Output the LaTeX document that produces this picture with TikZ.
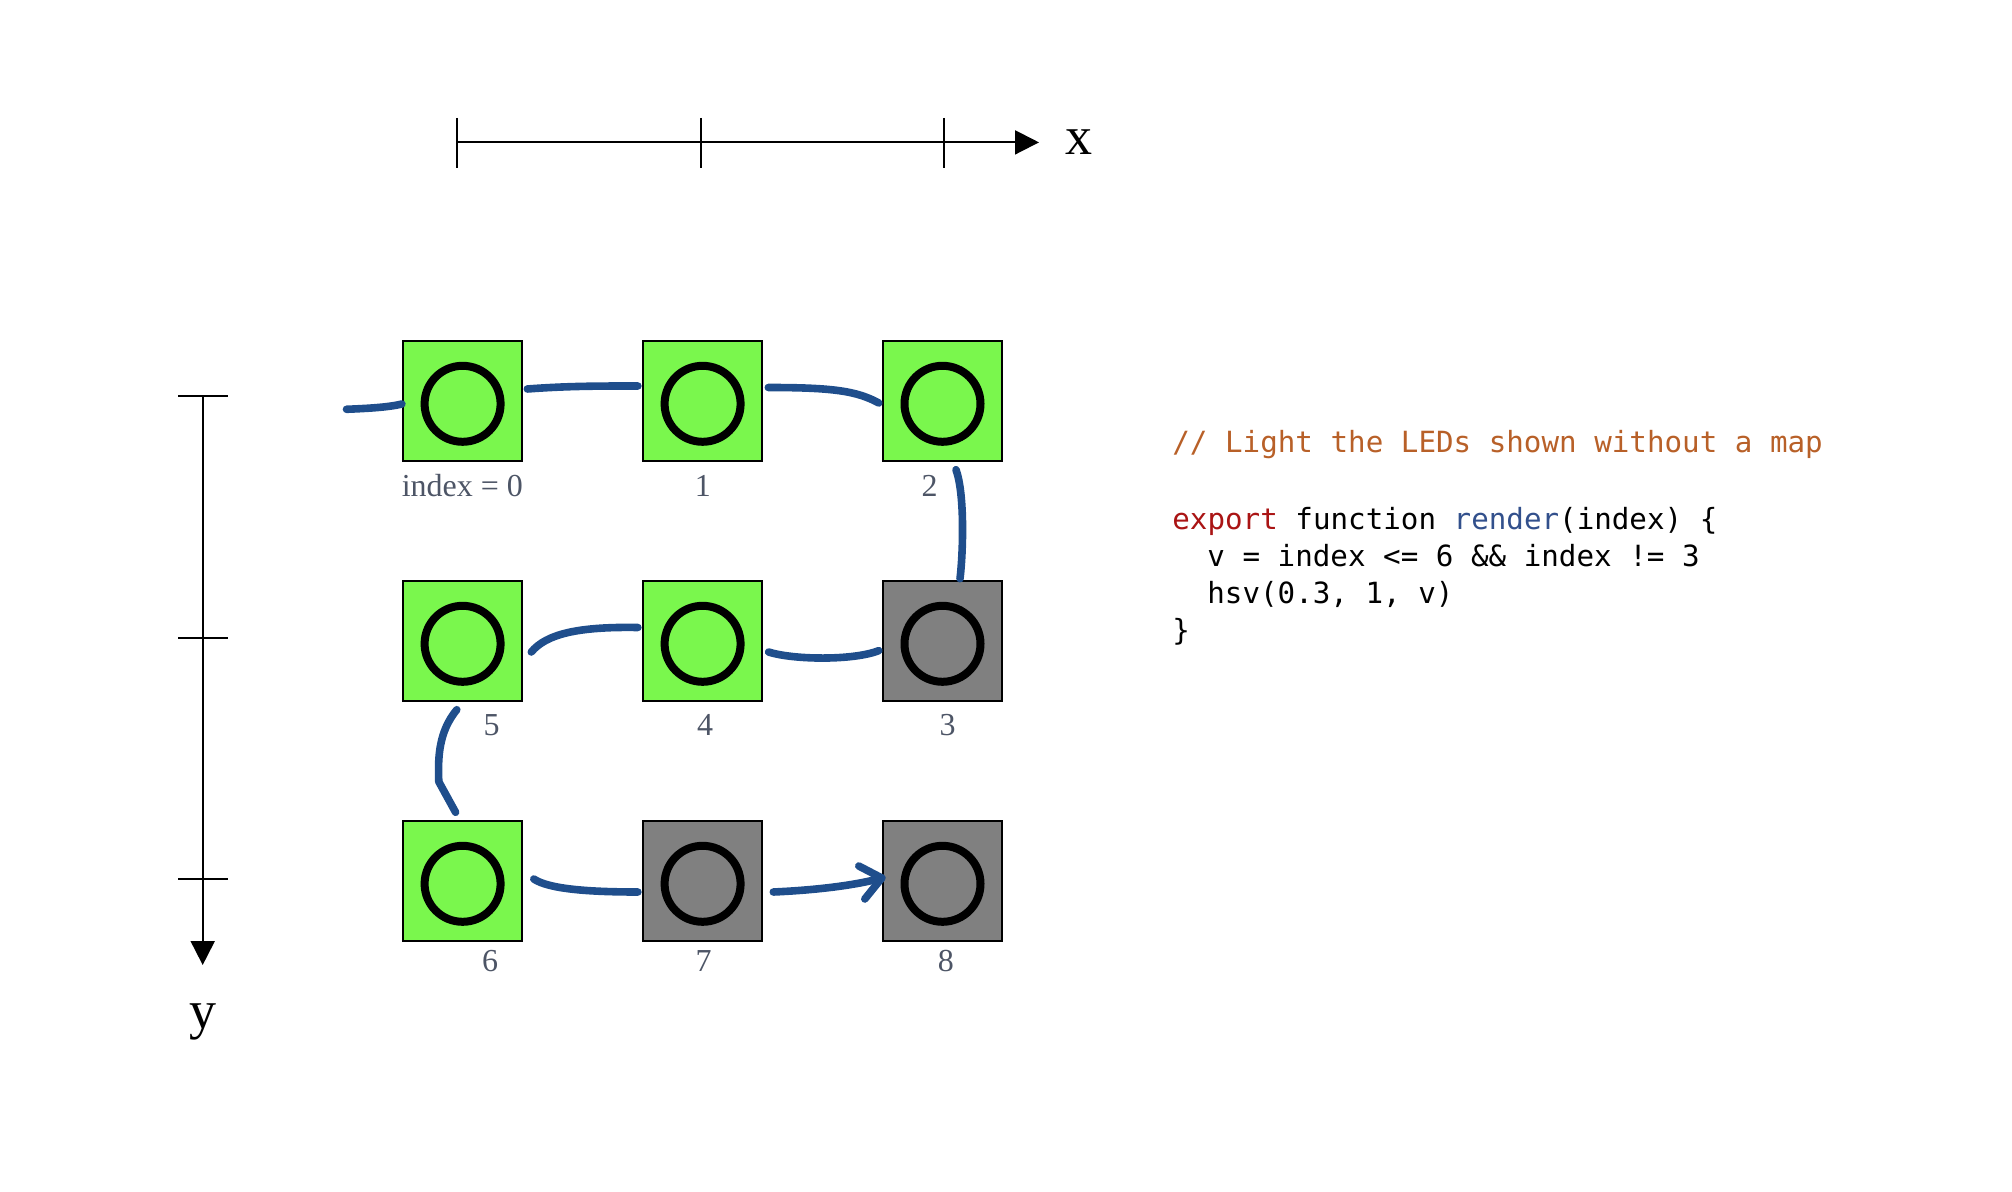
\documentclass[tikz,border=0pt]{standalone}
\usepackage{fontspec}
\setmainfont{Liberation Serif}
\newfontfamily\codefont{DejaVu Sans Mono}
\usetikzlibrary{arrows.meta,calc}
\definecolor{ledgreen}{RGB}{122,247,77}
\definecolor{ledgray}{RGB}{128,128,128}
\definecolor{wireblue}{RGB}{31,78,140}
\definecolor{labelgray}{RGB}{77,85,102}
\definecolor{cmtorange}{RGB}{184,96,40}
\definecolor{kwred}{RGB}{170,20,20}
\definecolor{fnblue}{RGB}{50,80,140}
\begin{document}
\begin{tikzpicture}[x=0.5pt,y=-0.5pt,
  led/.style={draw=black, line width=1pt, minimum width=59.7pt, minimum height=59.7pt, inner sep=0pt, outer sep=0pt},
  ledon/.style={led, fill=ledgreen},
  ledoff/.style={led, fill=ledgray},
  ring/.style={draw=black, line width=4pt},
  wire/.style={draw=wireblue, line width=3.8pt, line cap=round, line join=round},
  idx/.style={text=labelgray, anchor=base, inner sep=0pt, font=\fontsize{16}{16}\selectfont},
  axis/.style={line width=1pt, -{Triangle[length=12pt,width=12pt]}},
  tickline/.style={line width=1pt},
  axlabel/.style={anchor=base, inner sep=0pt, font=\fontsize{27}{27}\selectfont},
  codeline/.style={anchor=base west, inner sep=0pt, font=\codefont\fontsize{14.6}{18}\selectfont}
]
\useasboundingbox (0,0) rectangle (2012,1192);

% LEDs
\node[ledon]  (b0) at (462.6,401) {};
\node[ledon]  (b1) at (702.6,401) {};
\node[ledon]  (b2) at (942.5,401) {};
\node[ledoff] (b3) at (942.5,641) {};
\node[ledon]  (b4) at (702.6,641) {};
\node[ledon]  (b5) at (462.6,641) {};
\node[ledon]  (b6) at (462.6,881) {};
\node[ledoff] (b7) at (702.6,881) {};
\node[ledoff] (b8) at (942.5,881) {};
\foreach \b in {b0,b1,b2,b3,b4,b5,b6,b7,b8}{
  \draw[ring] ([yshift=-1.4pt]\b.center) circle [radius=19pt];
}

% index labels
\node[idx] (l0) at (462.4,496) {index = 0};
\node[idx] (l1) at (702.8,496) {1};
\node[idx] (l2) at (929.5,496) {2};
\node[idx] (l5) at (491.7,735.5) {5};
\node[idx] (l4) at (705,735.5) {4};
\node[idx] (l3) at (947.5,735.5) {3};
\node[idx] (l6) at (490,971.5) {6};
\node[idx] (l7) at (703.7,971.5) {7};
\node[idx] (l8) at (945.8,971.5) {8};

% axes
\coordinate (xo) at (456.8,142.4);
\coordinate (xe) at (1039,142.4);
\draw[axis] (xo) -- (xe);
\foreach \tx in {456.8,700.6,944.4}{
  \draw[tickline] (\tx,118) -- (\tx,168);
}
\node[axlabel] (xl) at (1079,155) {x};

\coordinate (yo) at (202.7,396.5);
\coordinate (ye) at (202.7,965);
\draw[axis] (yo) -- (ye);
\foreach \ty in {396.5,637.7,879}{
  \draw[tickline] (178.4,\ty) -- (228.4,\ty);
}
\node[axlabel] (yl) at (203,1028) {y};

% wires
\coordinate (lead) at (346.5,409.3);
\draw[wire] (lead) .. controls +(25,-1) and +(-12,3) .. ([shift={(-1,3)}]b0.west);
\draw[wire] ([shift={(5,-12)}]b0.east) .. controls +(40,-3) and +(-40,0) .. ([shift={(-5,-15)}]b1.west);
\draw[wire] ([shift={(6,-13.5)}]b1.east) .. controls +(65,0) and +(-22,-12) .. ([shift={(-4,2)}]b2.west);
\draw[wire] ([shift={(13.5,9)}]b2.south) .. controls +(9,25) and +(3,-25) .. ([shift={(17.5,-2.6)}]b3.north);
\draw[wire] ([shift={(-4,9.6)}]b3.west) .. controls +(-25,10) and +(25,8) .. ([shift={(6.3,11)}]b4.east);
\draw[wire] ([shift={(-5,-13.5)}]b4.west) .. controls +(-60,-1) and +(15,-18) .. ([shift={(9,11)}]b5.east);
\draw[wire] ([shift={(-5.8,9)}]b5.south) .. controls +(-18,22) and +(-1,-25) .. ++(-18,72) -- ([shift={(-7,-9)}]b6.north);
\draw[wire] ([shift={(11.5,-2)}]b6.east) .. controls +(15,10) and +(-50,0) .. ([shift={(-5,11)}]b7.west);
\coordinate (tip8) at ([shift={(-1,-3)}]b8.west);
\draw[wire] ([shift={(11,11)}]b7.east) .. controls +(45,-2) and +(-25,7) .. (tip8);
\draw[wire] ([shift={(-23,-12)}]tip8) -- (tip8) -- ([shift={(-17,21)}]tip8);

% code
\node[codeline] (c1) at (1172,452) {\textcolor{cmtorange}{// Light the LEDs shown without a map}};
\node[codeline] (c2) at (1172,529) {\textcolor{kwred}{export} function \textcolor{fnblue}{render}(index) \{};
\node[codeline] (c3) at (1207,566) {v = index <= 6 \&\& index != 3};
\node[codeline] (c4) at (1207,603) {hsv(0.3, 1, v)};
\node[codeline] (c5) at (1172,640) {\}};
\end{tikzpicture}
\end{document}
